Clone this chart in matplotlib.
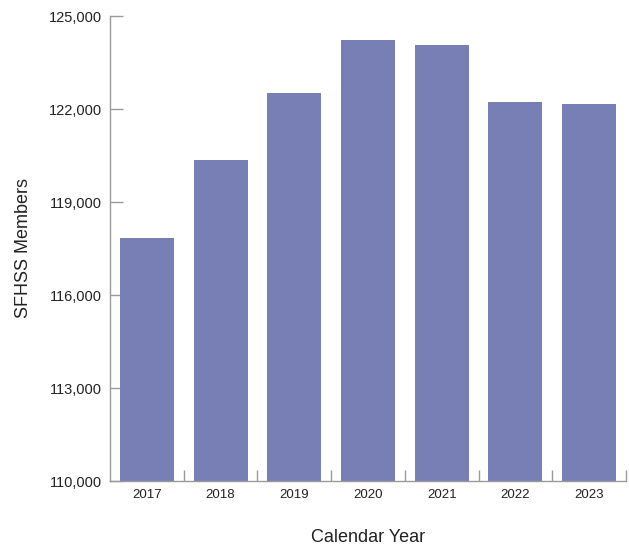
import numpy as np
import matplotlib.pyplot as plt
from matplotlib.ticker import FuncFormatter, FixedLocator

# datos
years = ["2017", "2018", "2019", "2020", "2021", "2022", "2023"]
members = [117840, 120350, 122520, 124230, 124060, 122230, 122160]
y_ticks = [110000, 113000, 116000, 119000, 122000, 125000]

bar_color = "#787fb5"
axis_color = "#9a9a9a"
text_color = "#222222"

plt.rcParams['font.family'] = ['Liberation Sans', 'DejaVu Sans']

fig = plt.figure(figsize=(6.29, 5.52), dpi=100)
ax = fig.add_axes([110 / 629, 71 / 552, 516 / 629, 465 / 552])

x = np.arange(len(years))
ax.bar(x, members, width=0.733, color=bar_color, zorder=2)

ax.set_xlim(-0.5, len(years) - 0.5)
ax.set_ylim(110000, 125000)

# eixo y
ax.set_yticks(y_ticks)
ax.yaxis.set_major_formatter(FuncFormatter(lambda v, p: f"{int(v):,}"))
ax.tick_params(axis='y', direction='in', length=9, width=1, color=axis_color,
               labelsize=10.5, labelcolor=text_color, pad=6)

# eixo x: rotulos no centro, tracinhos entre as barras
ax.set_xticks(x)
ax.set_xticklabels(years)
ax.tick_params(axis='x', which='major', length=0, labelsize=9.5, labelcolor=text_color, pad=6)
ax.xaxis.set_minor_locator(FixedLocator(np.arange(0.5, len(years), 1.0)))
ax.tick_params(axis='x', which='minor', direction='in', length=8, width=1, color=axis_color)

for side in ['top', 'right']:
    ax.spines[side].set_visible(False)
for side in ['left', 'bottom']:
    ax.spines[side].set_color(axis_color)
    ax.spines[side].set_linewidth(1)

# titulos dos eixos
fig.text(24 / 629, 1 - 248 / 552, "SFHSS Members", rotation=90, ha='center', va='center',
         fontsize=13, color=text_color)
fig.text(368 / 629, 1 - 538 / 552, "Calendar Year", ha='center', va='center',
         fontsize=13, color=text_color)

fig.savefig("out.png", dpi=100)
